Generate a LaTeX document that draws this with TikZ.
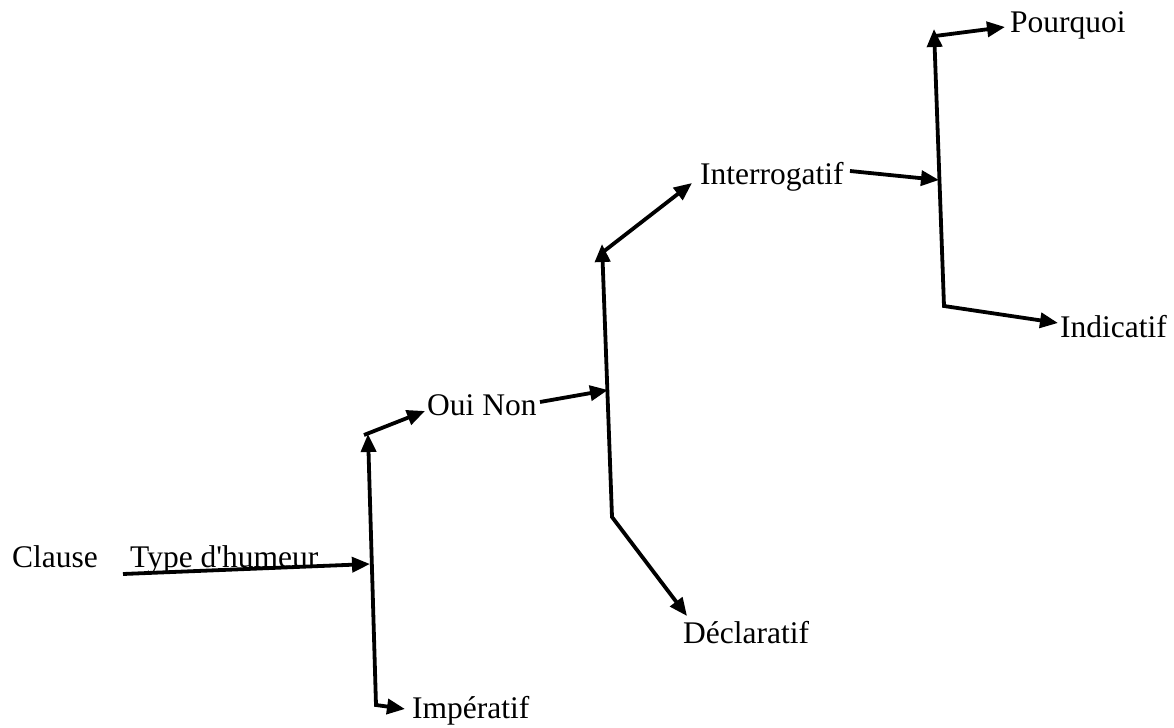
\documentclass[tikz,border=0pt]{standalone}
\usepackage{fontspec}
% plain family without TeX ligature mapping, so ' stays a straight quote
\newfontfamily\lbfont{Liberation Serif}
\usetikzlibrary{arrows.meta}
\begin{document}
\begin{tikzpicture}[x=1bp,y=-1bp,
  lbl/.style={anchor=base west,inner sep=0pt,font=\lbfont\fontsize{31.5bp}{38bp}\selectfont},
  arr/.style={line width=3.8bp,line join=miter,-{Triangle[length=18bp,width=15bp]}},
  barr/.style={line width=3.8bp,line join=miter,{Triangle[length=18bp,width=15bp]}-{Triangle[length=18bp,width=15bp]}}]
\useasboundingbox (0,0) rectangle (1174,728);

% labels
\node[lbl] (clause) at (12,567)   {Clause};
\node[lbl] (type)   at (130,567)  {Type d'humeur};
\node[lbl] (oui)    at (427,415)  {Oui Non};
\node[lbl] (imp)    at (412,718)  {Impératif};
\node[lbl] (inter)  at (700,185)  {Interrogatif};
\node[lbl] (decl)   at (683,643)  {Déclaratif};
\node[lbl] (pour)   at (1010,33)  {Pourquoi};
\node[lbl] (ind)    at (1060,337) {Indicatif};

% junction points
\coordinate (typeStart) at (123,574);
\coordinate (bar1In)    at (370,564);
\coordinate (bar1Top)   at (368,434);
\coordinate (bar1Bot)   at (376,705);
\coordinate (bar1Corner) at (364,435);
\coordinate (ouiTip)    at (425,411);
\coordinate (impTip)    at (405,709);
\coordinate (ouiOut)    at (540,402);
\coordinate (bar2In)    at (608,390);
\coordinate (bar2Top)   at (602,244);
\coordinate (bar2Bot)   at (612,517);
\coordinate (bar2Corner) at (603,252);
\coordinate (interTip)  at (692,183);
\coordinate (declTip)   at (687,616);
\coordinate (interOut)  at (850,171);
\coordinate (bar3In)    at (939,180);
\coordinate (bar3Top)   at (934,29);
\coordinate (bar3Bot)   at (944,306);
\coordinate (bar3Corner) at (935,36);
\coordinate (pourTip)   at (1005,27);
\coordinate (indTip)    at (1058,323);

% first level
\draw[arr]  (typeStart) -- (bar1In);
\draw[barr] (bar1Top) -- (bar1Bot) -- (impTip);
\draw[arr]  (bar1Corner) -- (ouiTip);

% second level
\draw[arr]  (ouiOut) -- (bar2In);
\draw[barr] (bar2Top) -- (bar2Bot) -- (declTip);
\draw[arr]  (bar2Corner) -- (interTip);

% third level
\draw[arr]  (interOut) -- (bar3In);
\draw[barr] (bar3Top) -- (bar3Bot) -- (indTip);
\draw[arr]  (bar3Corner) -- (pourTip);
\end{tikzpicture}
\end{document}
